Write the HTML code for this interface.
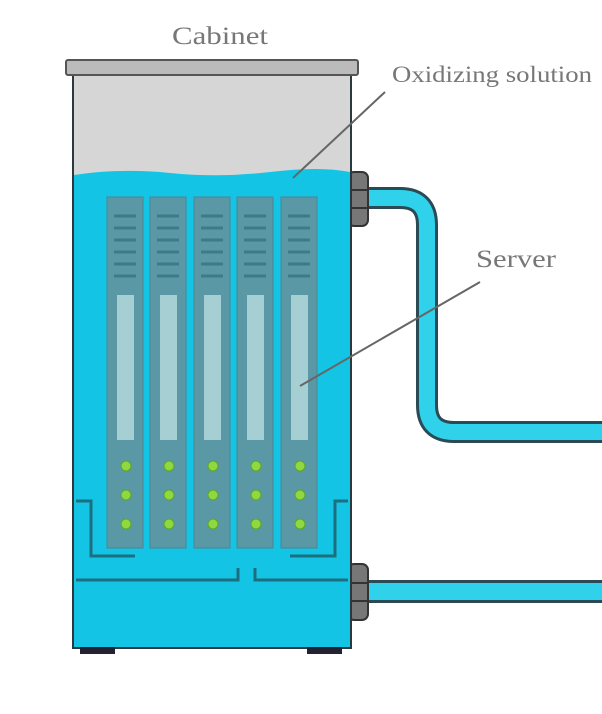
<!DOCTYPE html>
<html><head><style>body{margin:0;background:#fff;}svg{display:block}</style></head>
<body>
<svg width="602" height="714" viewBox="0 0 602 714" xmlns="http://www.w3.org/2000/svg">
<g font-family="Liberation Serif, serif" fill="#777">
<text x="172" y="44" font-size="25" textLength="96" lengthAdjust="spacingAndGlyphs">Cabinet</text>
<text x="392" y="82" font-size="23" textLength="200" lengthAdjust="spacingAndGlyphs">Oxidizing solution</text>
<text x="476" y="267" font-size="25" textLength="80" lengthAdjust="spacingAndGlyphs">Server</text>
</g>
<!-- pipes -->
<path d="M365 198 H400 Q427 198 427 225 V405 Q427 432 454 432 H602" fill="none" stroke="#2a4a55" stroke-width="22"/>
<path d="M365 198 H400 Q427 198 427 225 V405 Q427 432 454 432 H602" fill="none" stroke="#2fd2ea" stroke-width="16"/>
<rect x="365" y="580" width="240" height="23" fill="#2a4a55"/>
<rect x="365" y="583" width="240" height="17" fill="#2fd2ea"/>
<!-- connectors -->
<rect x="348" y="172" width="20" height="54" rx="6" fill="#777" stroke="#333" stroke-width="2"/>
<line x1="349" y1="190" x2="367" y2="190" stroke="#333" stroke-width="2"/><line x1="349" y1="208" x2="367" y2="208" stroke="#333" stroke-width="2"/>
<rect x="348" y="564" width="20" height="56" rx="6" fill="#777" stroke="#333" stroke-width="2"/>
<line x1="349" y1="583" x2="367" y2="583" stroke="#333" stroke-width="2"/><line x1="349" y1="601" x2="367" y2="601" stroke="#333" stroke-width="2"/>
<!-- tank -->
<rect x="73" y="72" width="278" height="576" fill="#d6d6d6" stroke="#444" stroke-width="2"/>
<path d="M74 175 Q120 168 170 173 T270 172 T350 172 V647 H74 Z" fill="#14c4e4"/>
<rect x="73" y="72" width="278" height="576" fill="none" stroke="#2a3a40" stroke-width="2"/>
<rect x="66" y="60" width="292" height="15" rx="2" fill="#bbb" stroke="#555" stroke-width="2"/>
<rect x="80" y="647" width="35" height="7" fill="#223"/>
<rect x="307" y="647" width="35" height="7" fill="#223"/>
<!-- servers -->
<g id="srv">
<rect x="107" y="197" width="36" height="351" fill="#5a98a6" stroke="#4a8592"/>
<g stroke="#3f7a88" stroke-width="3">
<line x1="114" y1="216" x2="136" y2="216"/><line x1="114" y1="228" x2="136" y2="228"/><line x1="114" y1="240" x2="136" y2="240"/><line x1="114" y1="252" x2="136" y2="252"/><line x1="114" y1="264" x2="136" y2="264"/><line x1="114" y1="276" x2="136" y2="276"/>
</g>
<rect x="117" y="295" width="17" height="145" fill="#a6cfd3"/>
<g fill="#8fd840" stroke="#5aa62a"><circle cx="126" cy="466" r="5"/><circle cx="126" cy="495" r="5"/><circle cx="126" cy="524" r="5"/></g>
</g>
<use href="#srv" x="43"/><use href="#srv" x="87"/><use href="#srv" x="130"/><use href="#srv" x="174"/>
<!-- inner lines -->
<g fill="none" stroke="#1c6f80" stroke-width="3">
<path d="M76 501 H91 V556 H135"/>
<path d="M348 501 H335 V556 H290"/>
<path d="M76 580 H238 V568"/>
<path d="M348 580 H255 V568"/>
</g>
<!-- leaders -->
<g stroke="#666" stroke-width="2"><line x1="385" y1="92" x2="293" y2="178"/><line x1="480" y1="282" x2="300" y2="386"/></g>
</svg>
</body></html>
